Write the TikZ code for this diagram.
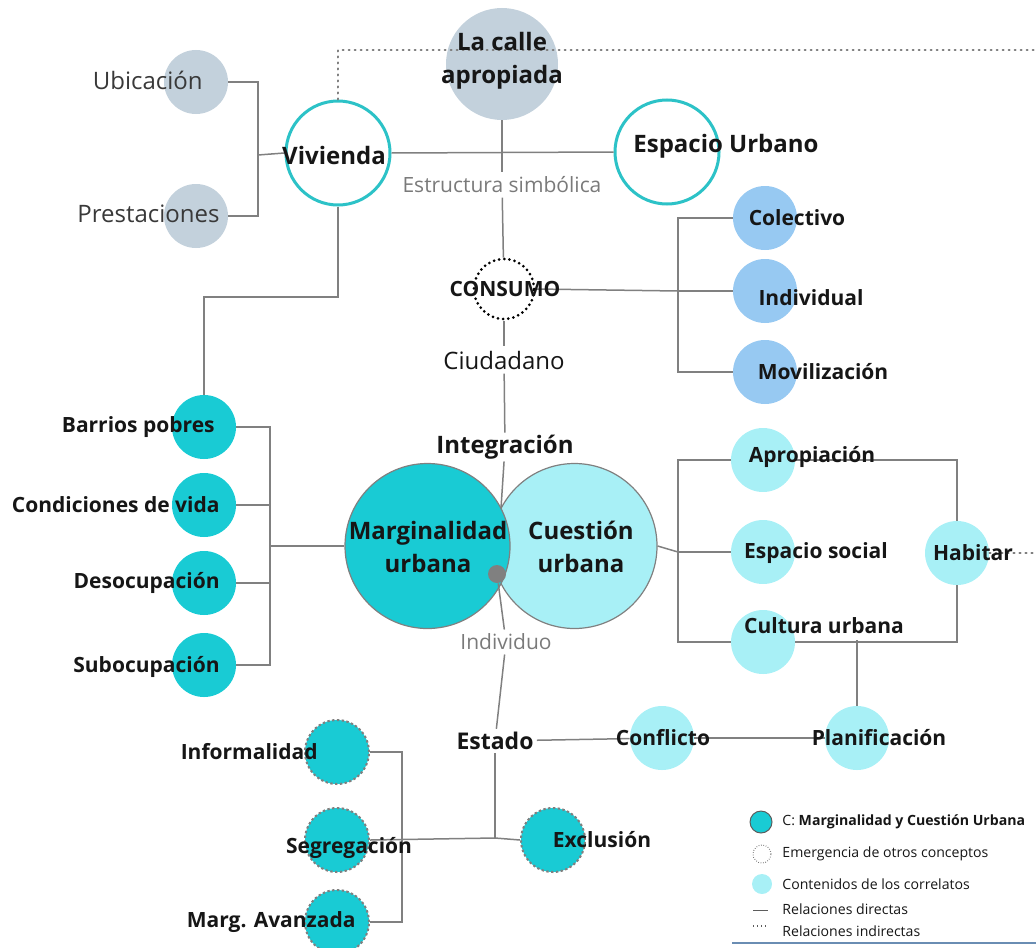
\documentclass[tikz,border=0pt]{standalone}
\usepackage{fontspec}
\setmainfont{Open Sans}
\definecolor{lc}{HTML}{808080}
\definecolor{cgray}{HTML}{C3D1DC}
\definecolor{cring}{HTML}{2CC2C7}
\definecolor{cblue}{HTML}{97C9F2}
\definecolor{cteal}{HTML}{19CBD4}
\definecolor{ccyan}{HTML}{A8F0F6}
\definecolor{ctext}{HTML}{161616}
\definecolor{cgtext}{HTML}{7A7A7A}
\definecolor{cbase}{HTML}{6A8DB3}
\begin{document}
\begin{tikzpicture}[x=0.5pt,y=-0.5pt,
  bub/.style={circle,inner sep=0pt,minimum size=32pt},
  grayb/.style={bub,fill=cgray},
  blueb/.style={bub,fill=cblue},
  cyanb/.style={bub,fill=ccyan},
  tealb/.style={bub,fill=cteal,draw=lc,line width=1pt,dash pattern=on 1.2pt off 1.2pt},
  ring/.style={circle,inner sep=0pt,minimum size=52pt,draw=cring,line width=1.5pt,fill=white},
  rel/.style={draw=lc,line width=0.75pt},
  indir/.style={draw=lc,line width=1pt,dash pattern=on 0.6pt off 2.4pt,line cap=round},
  bl/.style={text=ctext,inner sep=1.5pt,font=\bfseries\fontsize{10.5}{12.6}\selectfont},
  bL/.style={text=ctext,inner sep=1.5pt,font=\bfseries\fontsize{12}{16.5}\selectfont},
  rl/.style={text=ctext,inner sep=2pt,font=\fontsize{12}{14}\selectfont},
  gl/.style={text=cgtext,inner sep=2pt,font=\fontsize{10.5}{12.6}\selectfont},
  lgt/.style={text=ctext,anchor=west,inner sep=0pt,font=\fontsize{7.05}{8.5}\selectfont}
]
\useasboundingbox (0,0) rectangle (1036,947);

% ---- circles ----
\node[grayb,minimum size=56pt] (calle) at (502,64) {};
\node[grayb] (ubi) at (196,82) {};
\node[grayb] (pres) at (196,216) {};
\node[ring] (viv) at (338,153) {};
\node[ring] (esp) at (667,152) {};
\node[circle,inner sep=0pt,minimum size=30pt,draw=black,line width=1.5pt,dash pattern=on 0pt off 2.6pt,line cap=round] (cons) at (504,289) {};
\node[blueb] (col) at (765,218) {};
\node[blueb] (ind) at (765,291) {};
\node[blueb] (mov) at (765,372) {};
\node[circle,inner sep=0pt,minimum size=82.5pt,fill=ccyan,draw=lc,line width=0.6pt] (cues) at (574.5,546) {};
\node[circle,inner sep=0pt,minimum size=82.5pt,fill=cteal,draw=lc,line width=0.6pt] (marg) at (427.5,546) {};
\node[circle,inner sep=0pt,minimum size=9pt,fill=lc] (dot) at (497,574) {};
\node[bub,fill=cteal] (barr) at (204,427) {};
\node[bub,fill=cteal] (cond) at (204,505) {};
\node[bub,fill=cteal] (deso) at (204,583) {};
\node[bub,fill=cteal] (subo) at (204,665) {};
\node[cyanb] (apr) at (763,460) {};
\node[cyanb] (esps) at (763,552) {};
\node[cyanb] (cul) at (763,642) {};
\node[cyanb] (hab) at (957,553) {};
\node[cyanb] (plan) at (857,738) {};
\node[cyanb] (confl) at (662,738) {};
\node[tealb] (inf) at (337,752) {};
\node[tealb] (seg) at (337,840) {};
\node[tealb] (mav) at (337,922) {};
\node[tealb] (excl) at (553,840) {};

% ---- text nodes used as line ends ----
\node[gl] (estr) at (502,185) {Estructura simbólica};
\node[rl] (cit) at (504,360) {Ciudadano};
\node[bL,fill=white,inner sep=1pt] (integ) at (505,447) {Integración};
\node[gl] (indiv) at (506,642) {Individuo};
\node[bL,font=\bfseries\fontsize{11.5}{14}\selectfont] (estado) at (495,741) {Estado};

% ---- coordinates ----
\coordinate (bv) at (258,155);
\coordinate (dtop) at (338,50);
\coordinate (dright) at (1036,50);
\coordinate (br1) at (678,291);
\coordinate (vb) at (204,297);
\coordinate (mtop) at (501,508);
\coordinate (br2) at (678,552);
\coordinate (cb) at (857,640);
\coordinate (hright) at (1036,553);
\coordinate (br3) at (270,546);
\coordinate (br4) at (402,838);
\coordinate (est2) at (495,838);

% ---- connectors ----
\draw[indir] (viv.north) -- (dtop) -- (dright);
\draw[rel] (ubi.east) -| (bv) |- (pres.east);
\draw[rel] (bv) -- (viv.west);
\draw[rel] (viv.east) -- (esp.west);
\draw[rel] (calle) -- (estr);
\draw[rel] (estr) -- (cons);
\draw[rel] (cons.east) -- (br1);
\draw[rel] (col.west) -| (br1) |- (mov.west);
\draw[rel] (br1) -- (ind.west);
\draw[rel] (viv.south) |- (vb) -- (barr.north);
\draw[rel] (cons) -- (cit);
\draw[rel] (cit) -- (integ);
\draw[rel] (integ) -- (mtop);
\draw[rel] (dot) -- (indiv);
\draw[rel] (indiv) -- (estado);
\draw[rel] (barr.east) -| (br3) |- (subo.east);
\draw[rel] (cond.east) -- (cond.east -| br3);
\draw[rel] (deso.east) -- (deso.east -| br3);
\draw[rel] (br3) -- (marg.west);
\draw[rel] (cues.east) -- (br2);
\draw[rel] (apr.west) -| (br2) |- (cul.west);
\draw[rel] (br2) -- (esps.west);
\draw[rel] (apr.east) -| (hab.north);
\draw[rel] (hab.south) |- (cul.east);
\draw[rel] (cb) -- (plan.north);
\draw[indir] (hab.east) -- (hright);
\draw[rel] (estado) -- (confl);
\draw[rel] (confl) -- (plan);
\draw[rel] (estado) -- (est2);
\draw[rel] (seg.east) -- (est2) -- (excl.west);
\draw[rel] (inf.east) -| (br4) |- (mav.east);

% ---- labels ----
\node[bL,align=center] (tcalle) at (502,61) {La calle\\apropiada};
\node[rl,anchor=east,text=ctext!85] (tubi) at (207,80) {Ubicación};
\node[rl,anchor=east,text=ctext!85] (tpres) at (224,214) {Prestaciones};
\node[bL] (tviv) at (334,155) {Vivienda};
\node[bL,anchor=west] (tesp) at (630,146) {Espacio Urbano};
\node[bl] (tcons) at (505,289) {CONSUMO};
\node[bl] (tcol) at (797,218) {Colectivo};
\node[bl] (tind) at (811,298) {Individual};
\node[bl] (tmov) at (823,372) {Movilización};
\node[bL,align=center] (tmarg) at (428,547) {Marginalidad\\urbana};
\node[bL,align=center] (tcues) at (581,547) {Cuestión\\urbana};
\node[bl,anchor=east] (tbarr) at (218,427) {Barrios pobres};
\node[bl,anchor=east] (tcond) at (223,505) {Condiciones de vida};
\node[bl,anchor=east] (tdeso) at (223,583) {Desocupación};
\node[bl,anchor=east] (tsubo) at (223,667) {Subocupación};
\node[bl] (tapr) at (812,457) {Apropiación};
\node[bl] (tesps) at (816,553) {Espacio social};
\node[bl] (tcul) at (824,626) {Cultura urbana};
\node[bl] (thab) at (973,553) {Habitar};
\node[bl] (tplan) at (879,738) {Planificación};
\node[bl] (tconfl) at (663,738) {Conflicto};
\node[bl,anchor=east] (tinf) at (321,752) {Informalidad};
\node[bl] (tseg) at (349,848) {Segregación};
\node[bl,anchor=east] (tmav) at (359,922) {Marg. Avanzada};
\node[bl] (texcl) at (602,840) {Exclusión};

% ---- legend ----
\node[circle,inner sep=0pt,minimum size=11pt,fill=cteal,draw=ctext!70,line width=0.5pt] (lg1) at (761,822) {};
\node[circle,inner sep=0pt,minimum size=9pt,draw=ctext!70,line width=0.5pt,dash pattern=on 0.3pt off 0.9pt] (lg2) at (762,854) {};
\node[circle,inner sep=0pt,minimum size=10pt,fill=ccyan] (lg3) at (762,884) {};
\coordinate (lg4a) at (753,910); \coordinate (lg4b) at (768,910);
\coordinate (lg5a) at (753,926); \coordinate (lg5b) at (768,926);
\draw[draw=ctext!70,line width=0.5pt] (lg4a) -- (lg4b);
\draw[draw=ctext!70,line width=0.7pt,dash pattern=on 0.4pt off 1.6pt] (lg5a) -- (lg5b);
\node[lgt] (lt1) at (782,822) {C: \textbf{Marginalidad y Cuestión Urbana}};
\node[lgt] (lt2) at (782,854) {Emergencia de otros conceptos};
\node[lgt] (lt3) at (782,884) {Contenidos de los correlatos};
\node[lgt] (lt4) at (782,909) {Relaciones directas};
\node[lgt] (lt5) at (782,931) {Relaciones indirectas};
\coordinate (bl1) at (732,943); \coordinate (bl2) at (1036,943);
\draw[draw=cbase,line width=1pt] (bl1) -- (bl2);
\end{tikzpicture}
\end{document}
